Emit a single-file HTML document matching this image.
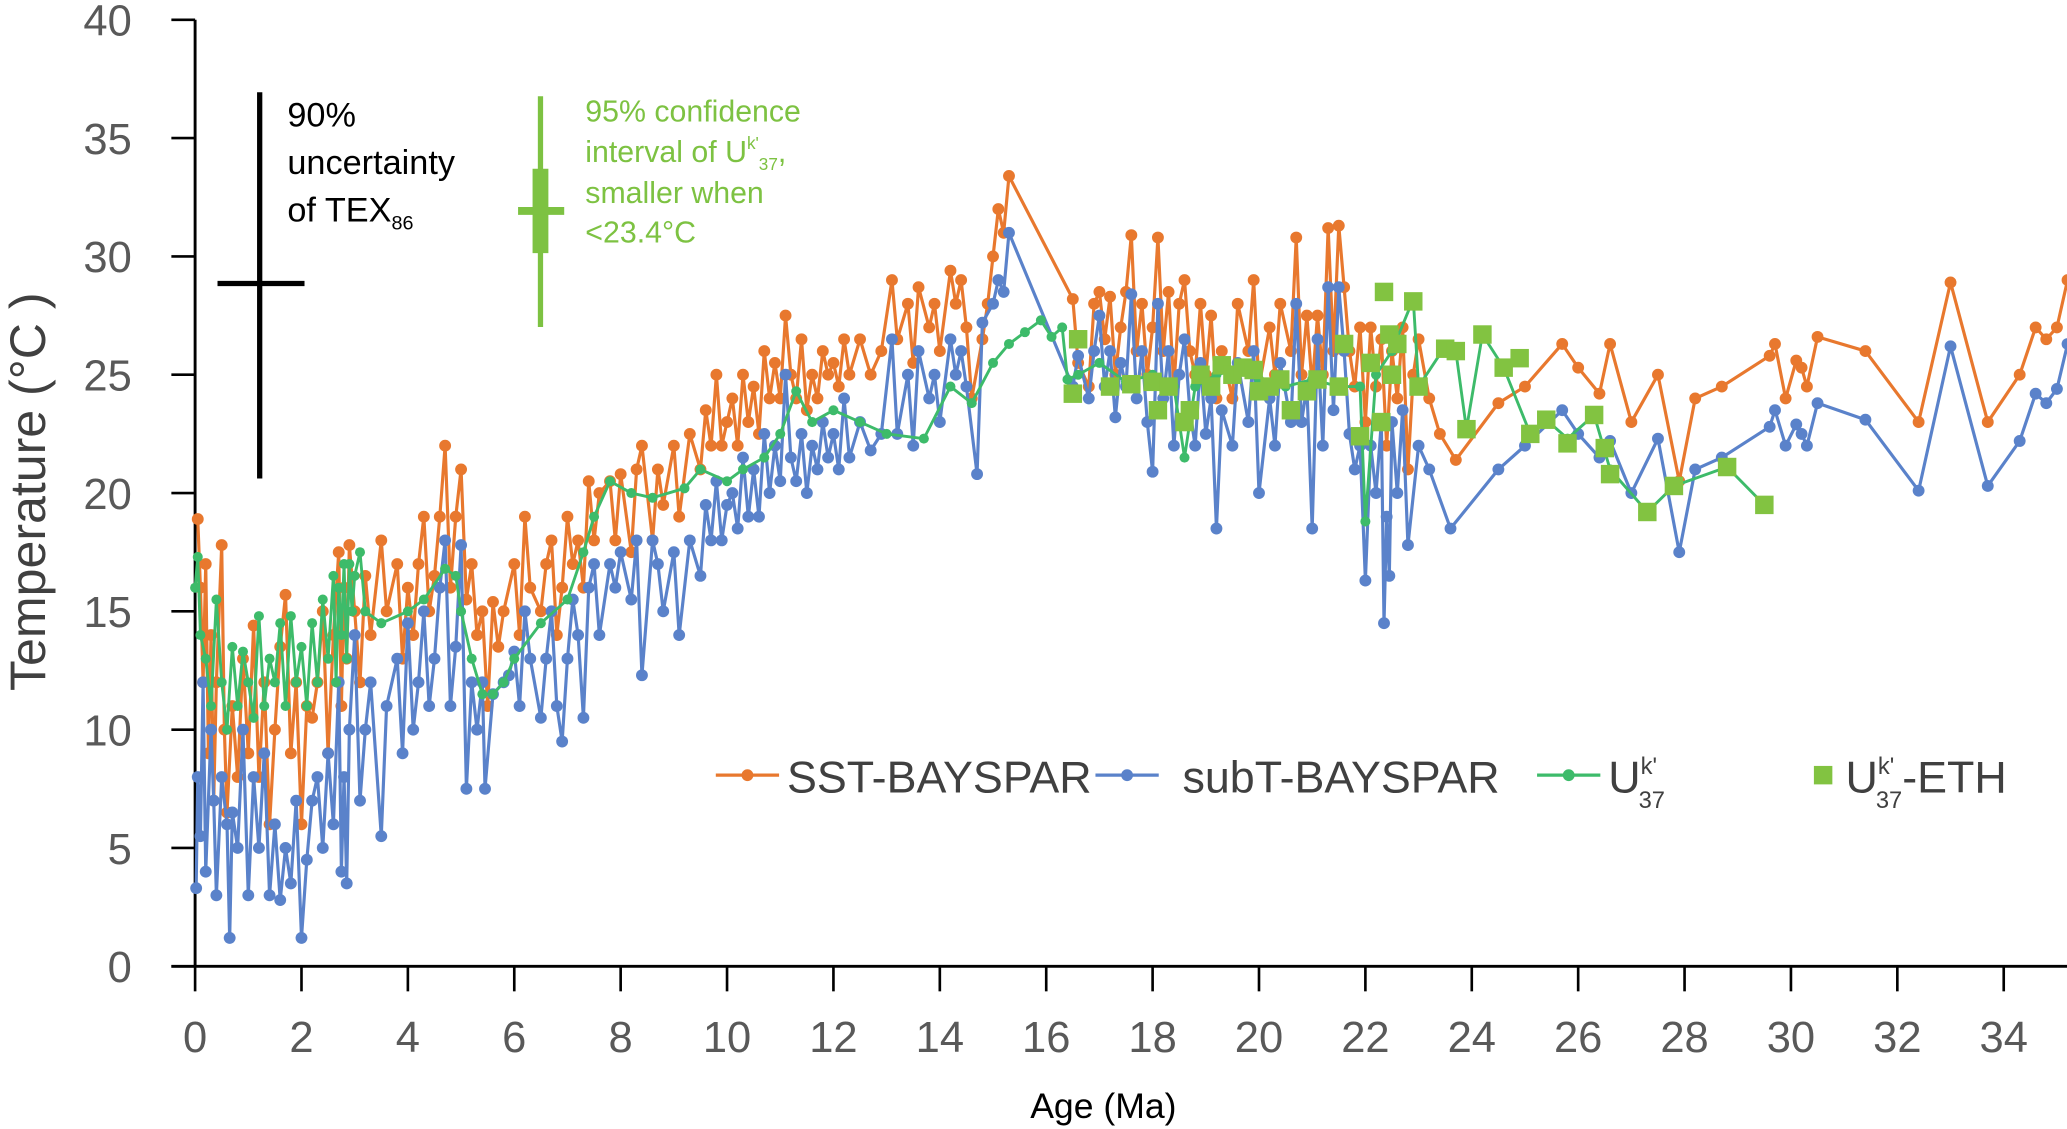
<!DOCTYPE html>
<html><head><meta charset="utf-8"><style>
html,body{margin:0;padding:0;background:#fff;}
svg{display:block;font-family:"Liberation Sans",sans-serif;}
</style></head><body>
<svg id="chart" width="2067" height="1129" viewBox="0 0 1568 856.4" xmlns="http://www.w3.org/2000/svg">
<g id="grid"></g>
<g id="series"></g>
<g id="annot"></g>
</svg>
<script>
const sstAge=[0.05,0.1,0.15,0.2,0.25,0.3,0.35,0.4,0.5,0.55,0.6,0.7,0.8,0.9,1.0,1.1,1.2,1.3,1.4,1.5,1.6,1.7,1.8,1.9,2.0,2.1,2.2,2.3,2.4,2.5,2.6,2.7,2.75,2.8,2.85,2.9,3.0,3.1,3.2,3.3,3.5,3.6,3.8,3.9,4.0,4.1,4.2,4.3,4.4,4.5,4.6,4.7,4.8,4.9,5.0,5.1,5.2,5.3,5.4,5.5,5.6,5.7,5.8,6.0,6.1,6.2,6.3,6.5,6.6,6.7,6.8,6.9,7.0,7.1,7.2,7.3,7.4,7.5,7.6,7.8,7.9,8.0,8.2,8.3,8.4,8.6,8.7,8.8,9.0,9.1,9.3,9.5,9.6,9.7,9.8,9.9,10.0,10.1,10.2,10.3,10.4,10.5,10.6,10.7,10.8,10.9,11.0,11.1,11.2,11.3,11.4,11.5,11.6,11.7,11.8,11.9,12.0,12.1,12.2,12.3,12.5,12.7,12.9,13.1,13.2,13.4,13.5,13.6,13.8,13.9,14.0,14.2,14.3,14.4,14.5,14.6,14.8,14.9,15.0,15.1,15.2,15.3,16.5,16.6,16.8,16.9,17.0,17.1,17.2,17.3,17.4,17.5,17.6,17.7,17.8,17.9,18.0,18.1,18.2,18.3,18.4,18.5,18.6,18.7,18.8,18.9,19.0,19.1,19.2,19.3,19.5,19.6,19.8,19.9,20.0,20.2,20.3,20.4,20.6,20.7,20.8,20.9,21.0,21.1,21.2,21.3,21.4,21.5,21.6,21.7,21.8,21.9,22.0,22.1,22.2,22.3,22.4,22.5,22.6,22.7,22.8,22.9,23.0,23.2,23.4,23.7,24.5,25.0,25.7,26.0,26.4,26.6,27.0,27.5,27.9,28.2,28.7,29.6,29.7,29.9,30.1,30.2,30.3,30.5,31.4,32.4,33.0,33.7,34.3,34.6,34.8,35.0,35.2,35.4];
const sstVal=[18.9,16,12,17,9,14,7,12,17.8,10,6.5,11,8,13,9,14.4,8,12,6,10,13.5,15.7,9,12,6,11,10.5,12,15,9,14,17.5,11,16,13,17.8,15,12,16.5,14,18,15,17,13,16,14,17,19,15,16.5,19,22,16,19,21,15.5,17,14,15,11,15.4,13.5,15,17,14,19,16,15,17,18,14,16,19,17,18,16,20.5,18,20,20.5,18,20.8,17.5,21,22,18,21,19.5,22,19,22.5,21,23.5,22,25,22,23,24,22,25,23,24.5,22.5,26,24,25.5,24,27.5,25,24,26.5,23.5,25,24,26,25,25.5,24.5,26.5,25,26.5,25,26,29,26.5,28,25.5,28.7,27,28,26,29.4,28,29,27,24,26.5,28,30,32,31,33.4,28.2,25.5,24.5,28,28.5,26.5,28.3,25,27,28.5,30.9,26,28,25,27,30.8,26,28.5,24.5,28,29,26,25,28,25,27.5,24,26,24,28,26,29,24.5,27,25,28,26,30.8,25,27.5,24.5,27.5,25,31.2,26,31.3,28.7,26,24.5,27,23,27,24.5,26.5,22,26,24,27,21,25,26.5,24,22.5,21.4,23.8,24.5,26.3,25.3,24.2,26.3,23,25,20.5,24,24.5,25.8,26.3,24,25.6,25.3,24.5,26.6,26,23,28.9,23,25,27,26.5,27,29,27.8];
const subAge=[0.02,0.05,0.1,0.15,0.2,0.3,0.35,0.4,0.5,0.6,0.65,0.7,0.8,0.9,1.0,1.1,1.2,1.3,1.4,1.5,1.6,1.7,1.8,1.9,2.0,2.1,2.2,2.3,2.4,2.5,2.6,2.7,2.75,2.8,2.85,2.9,3.0,3.1,3.2,3.3,3.5,3.6,3.8,3.9,4.0,4.1,4.2,4.3,4.4,4.5,4.6,4.7,4.8,4.9,5.0,5.1,5.2,5.3,5.4,5.45,5.6,5.8,5.9,6.0,6.1,6.2,6.3,6.5,6.6,6.7,6.8,6.9,7.0,7.1,7.2,7.3,7.4,7.5,7.6,7.8,7.9,8.0,8.2,8.3,8.4,8.6,8.7,8.8,9.0,9.1,9.3,9.5,9.6,9.7,9.8,9.9,10.0,10.1,10.2,10.3,10.4,10.5,10.6,10.7,10.8,10.9,11.0,11.1,11.2,11.3,11.4,11.5,11.6,11.7,11.8,11.9,12.0,12.1,12.2,12.3,12.5,12.7,12.9,13.1,13.2,13.4,13.5,13.6,13.8,13.9,14.0,14.2,14.3,14.4,14.5,14.7,14.8,15.0,15.1,15.2,15.3,16.5,16.6,16.8,16.9,17.0,17.1,17.2,17.3,17.4,17.5,17.6,17.7,17.8,17.9,18.0,18.1,18.2,18.3,18.4,18.5,18.6,18.7,18.8,18.9,19.0,19.1,19.2,19.3,19.5,19.6,19.8,19.9,20.0,20.2,20.3,20.4,20.6,20.7,20.8,20.9,21.0,21.1,21.2,21.3,21.4,21.5,21.6,21.7,21.8,21.9,22.0,22.1,22.2,22.3,22.35,22.4,22.45,22.5,22.6,22.7,22.8,23.0,23.2,23.6,24.5,25.0,25.7,26.0,26.4,26.6,27.0,27.5,27.9,28.2,28.7,29.6,29.7,29.9,30.1,30.2,30.3,30.5,31.4,32.4,33.0,33.7,34.3,34.6,34.8,35.0,35.2,35.4];
const subVal=[3.3,8,5.5,12,4,10,7,3,8,6,1.2,6.5,5,10,3,8,5,9,3,6,2.8,5,3.5,7,1.2,4.5,7,8,5,9,6,12,4,8,3.5,10,14,7,10,12,5.5,11,13,9,14.5,10,12,15,11,13,16,18,11,13.5,17.8,7.5,12,10,12,7.5,11.5,12,12.3,13.3,11,15,13,10.5,13,15,11,9.5,13,15.5,14,10.5,16,17,14,17,16,17.5,15.5,18,12.3,18,17,15,17.5,14,18,16.5,19.5,18,20.5,18,19.5,20,18.5,21.5,19,21,19,22.5,20,22,20.5,25,21.5,20.5,22.5,20,22,21,23,21.5,22.5,21,24,21.5,23,21.8,22.5,26.5,22.5,25,22,26,24,25,23,26.5,25,26,24.5,20.8,27.2,28,29,28.5,31,24.5,25.8,24,26,27.5,24.5,26,23.2,25.5,24.5,28.4,24,26,23,20.9,28,24,26,22,25,26.5,23.5,22,25.5,22.5,24,18.5,23.5,22,25.5,23,26,20,24,22,25.5,23,28,23,24.5,18.5,26.5,22,28.7,23.5,28.7,26,22.5,21,22,16.3,22,20,23,14.5,19,16.5,23,20,23.5,17.8,22,21,18.5,21,22,23.5,22.5,21.5,22.2,20,22.3,17.5,21,21.5,22.8,23.5,22,22.9,22.5,22,23.8,23.1,20.1,26.2,20.3,22.2,24.2,23.8,24.4,26.3,23.5];
const ukAge=[0.0,0.05,0.1,0.2,0.3,0.4,0.5,0.6,0.7,0.8,0.9,1.0,1.1,1.2,1.3,1.4,1.5,1.6,1.7,1.8,1.9,2.0,2.1,2.2,2.3,2.4,2.5,2.6,2.65,2.7,2.75,2.8,2.85,2.9,2.95,3.0,3.1,3.2,3.5,4.0,4.3,4.7,4.9,5.0,5.2,5.4,5.6,5.8,6.0,6.5,7.0,7.3,7.5,7.8,8.2,8.6,9.2,9.5,10.0,10.3,10.7,11.0,11.3,11.6,12.0,12.5,13.0,13.7,14.2,14.6,15.0,15.3,15.6,15.9,16.1,16.3,16.4,16.6,17.0,17.5,18.0,18.4,18.6,18.8,19.2,19.6,20.0,20.5,21.0,21.5,21.9,22.0,22.2,22.5,22.9,23.0,23.5,23.7,23.9,24.2,24.6,25.1,25.4,25.8,26.3,26.6,27.3,27.8,28.8,29.5];
const ukVal=[16,17.3,14,13,11,15.5,12,10,13.5,11,13.3,12,10.5,14.8,11,13,12,14.5,11,14.8,12,13.5,11,14.5,12,15.5,13,16.5,12,16,14,17,13,17,15,16.5,17.5,15,14.5,15,15.5,16.8,16.5,15,13,11.5,11.5,12,13,14.5,15.5,17.5,19,20.5,20,19.8,20.2,21,20.5,21,21.5,22.5,24.3,23,23.5,23,22.5,22.3,24.5,23.8,25.5,26.3,26.8,27.3,26.6,27,24.8,25,25.5,24.7,25,24.5,21.5,24.5,25,25.2,24.8,24.5,24.8,24.5,24.5,18.8,25,26,28.2,24.5,26.2,26,22.7,26.7,25.3,22.5,23.1,22.3,23.3,21,19.2,20.3,21.1,19.5];
const ethAge=[16.5,16.6,17.2,17.6,18.0,18.1,18.3,18.6,18.7,18.9,19.1,19.3,19.5,19.7,19.9,20.0,20.2,20.4,20.6,20.9,21.1,21.5,21.6,21.9,22.1,22.3,22.35,22.45,22.5,22.6,22.9,23.0,23.5,23.7,23.9,24.2,24.6,24.9,25.1,25.4,25.8,26.3,26.5,26.6,27.3,27.8,28.8,29.5];
const ethVal=[24.2,26.5,24.5,24.6,24.7,23.5,24.5,23,23.5,25,24.5,25.4,25,25.3,25.2,24.3,24.5,24.8,23.5,24.3,24.8,24.5,26.3,22.4,25.5,23,28.5,26.7,25,26.3,28.1,24.5,26.1,26,22.7,26.7,25.3,25.7,22.5,23.1,22.1,23.3,21.9,20.8,19.2,20.3,21.1,19.5];
const yTicks=[0,5,10,15,20,25,30,35,40];
const xTicks=[0,2,4,6,8,10,12,14,16,18,20,22,24,26,28,30,32,34];

const NS="http://www.w3.org/2000/svg";
const X0=148,XS=(1520-148)/34,Y0=733,YS=(733-15)/40;
const xs=a=>X0+a*XS, ys=v=>Y0-v*YS;
function mk(t,attrs,parent,txt){const e=document.createElementNS(NS,t);for(const k in attrs)e.setAttribute(k,attrs[k]);if(txt!==undefined)e.textContent=txt;parent.appendChild(e);return e;}
const grid=document.getElementById('grid'),ser=document.getElementById('series'),an=document.getElementById('annot');
let el=mk('line',{x1:X0,y1:15,x2:X0,y2:Y0,stroke:'#000','stroke-width':2.2},grid);


el=mk('line',{x1:130,y1:Y0,x2:1568,y2:Y0,stroke:'#000','stroke-width':2.2},grid);


yTicks.forEach(v=>{
 mk('line',{x1:130,y1:ys(v),x2:X0,y2:ys(v),stroke:'#000','stroke-width':2},grid);
 const t=mk('text',{x:100,y:ys(v)+12,'text-anchor':'end','font-size':33,fill:'#595959'},grid,String(v));
 
 
});
xTicks.forEach(v=>{
 mk('line',{x1:xs(v),y1:Y0,x2:xs(v),y2:752,stroke:'#000','stroke-width':2},grid);
 const t=mk('text',{x:xs(v),y:798,'text-anchor':'middle','font-size':33,fill:'#595959'},grid,String(v));
 
 
});
el=mk('text',{x:837,y:848,'text-anchor':'middle','font-size':27,fill:'#000'},grid,'Age (Ma)');


el=mk('text',{x:0,y:0,transform:'translate(34,373) rotate(-90)','text-anchor':'middle','font-size':38,fill:'#404040'},grid,'Temperature (°C )');



function line(ages,vals,color,name,r,w){
 const g=mk('g',{},ser);
 
 
 mk('polyline',{points:ages.map((a,i)=>xs(a)+','+ys(vals[i])).join(' '),fill:'none',stroke:color,'stroke-width':w,'stroke-linejoin':'round'},g);
 ages.forEach((a,i)=>{const c=mk('circle',{cx:xs(a),cy:ys(vals[i]),r:r,fill:color},g);
  
  });
}
line(sstAge,sstVal,'#E8782E','sst-bayspar-series',4.5,2.4);
line(subAge,subVal,'#5A82CA','subt-bayspar-series',4.5,2.4);
line(ukAge,ukVal,'#3DBB6A','uk37-series',3.8,2.2);
const ge=mk('g',{},ser);


ethAge.forEach((a,i)=>{const s=mk('rect',{x:xs(a)-7,y:ys(ethVal[i])-7,width:14,height:14,fill:'#82C341'},ge);
 
 });

const eb=mk('g',{},an);


mk('line',{x1:197,y1:70,x2:197,y2:363,stroke:'#000','stroke-width':4},eb);
mk('line',{x1:165,y1:215,x2:231,y2:215,stroke:'#000','stroke-width':4},eb);
const t1=mk('text',{'font-size':26,fill:'#000'},an);


t1.innerHTML='<tspan x="218" y="96">90%</tspan><tspan x="218" y="132">uncertainty</tspan><tspan x="218" y="168">of TEX</tspan><tspan font-size="15" dy="6">86</tspan>';
const gb=mk('g',{},an);


mk('line',{x1:410,y1:73,x2:410,y2:248,stroke:'#7DC242','stroke-width':4},gb);
mk('line',{x1:410,y1:128,x2:410,y2:192,stroke:'#7DC242','stroke-width':12},gb);
mk('line',{x1:393,y1:160,x2:428,y2:160,stroke:'#7DC242','stroke-width':6},gb);
const t2=mk('text',{'font-size':23,fill:'#7DC242'},an);


t2.innerHTML='<tspan x="444" y="92">95% confidence</tspan><tspan x="444" y="123">interval of U</tspan><tspan font-size="13" dy="-10">k\'</tspan><tspan font-size="13" dy="16">37</tspan><tspan dy="-6">,</tspan><tspan x="444" y="154">smaller when</tspan><tspan x="444" y="184">&lt;23.4°C</tspan>';

const lg=mk('g',{},an);


function legLine(x,color,name){const g=mk('g',{},lg);
 mk('line',{x1:x,y1:588,x2:x+48,y2:588,stroke:color,'stroke-width':2.5},g);mk('circle',{cx:x+24,cy:588,r:4.5,fill:color},g);return g;}
let g1=legLine(543,'#E8782E','legend-entry-sst');
mk('text',{x:597,y:601,'font-size':34,fill:'#404040'},g1,'SST-BAYSPAR');
let g2=legLine(831,'#5A82CA','legend-entry-subt');
mk('text',{x:897,y:601,'font-size':34,fill:'#404040'},g2,'subT-BAYSPAR');
let g3=legLine(1166,'#3DBB6A','legend-entry-uk37');
const t3=mk('text',{'font-size':34,fill:'#404040'},g3);
t3.innerHTML='<tspan x="1220" y="601">U</tspan><tspan font-size="18" dy="-14">k\'</tspan><tspan font-size="18" dx="-14" dy="26">37</tspan>';
const g4=mk('g',{},lg);


mk('rect',{x:1376,y:581,width:14,height:14,fill:'#82C341'},g4);
const t4=mk('text',{'font-size':34,fill:'#404040'},g4);
t4.innerHTML='<tspan x="1400" y="601">U</tspan><tspan font-size="18" dy="-14">k\'</tspan><tspan font-size="18" dx="-14" dy="26">37</tspan><tspan dy="-12">-ETH</tspan>';
</script>
</body></html>
